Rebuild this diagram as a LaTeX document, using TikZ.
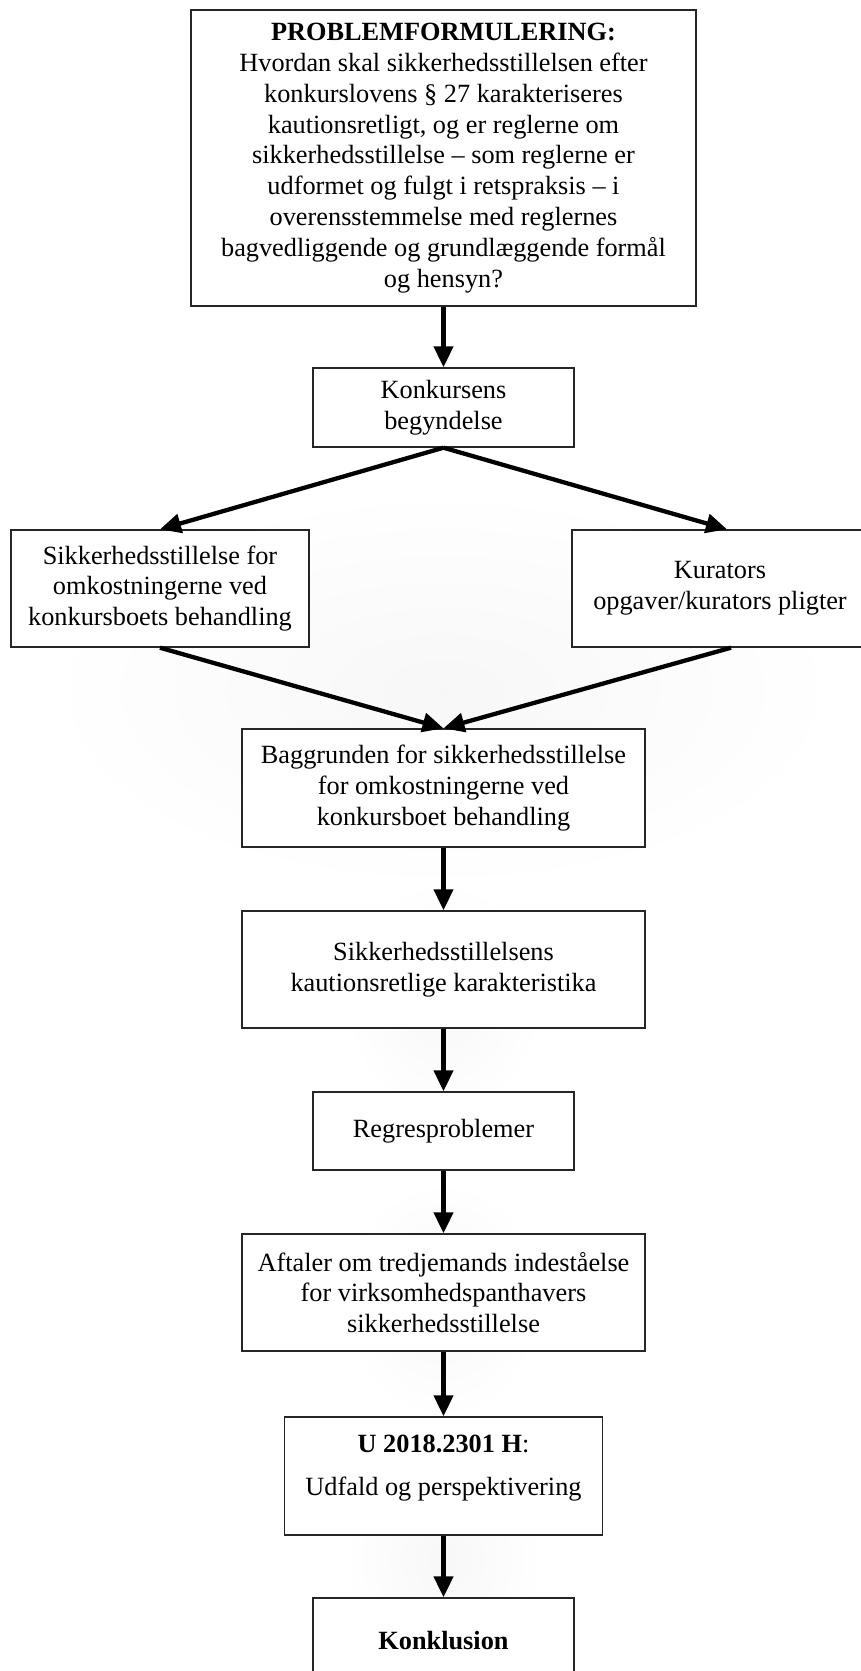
\documentclass[tikz,border=0pt]{standalone}
\usepackage{fontspec}
\setmainfont{Liberation Serif}
\usetikzlibrary{arrows.meta,shadings}
\begin{document}
\begin{tikzpicture}[x=1pt,y=-1pt,
  box/.style={draw=black!85,line width=1.4pt,fill=white,rectangle,inner sep=0pt,align=center,
     font=\fontsize{26.3}{30.8}\selectfont},
  arr/.style={line width=4.3pt,-{Triangle[length=21pt,width=19pt]}},
  glow/.style={inner color=black!3,outer color=white}]
\useasboundingbox[fill=white] (0,0) rectangle (860,1671);
% faint background glow
\shade[glow] (443,690) ellipse [x radius=400, y radius=200];
\shade[glow] (443,1000) ellipse [x radius=100, y radius=120];
\shade[glow] (443,1300) ellipse [x radius=100, y radius=120];
\shade[glow] (443,1560) ellipse [x radius=100, y radius=120];
% nodes
\node[box,minimum width=505pt,minimum height=296pt] (b1) at (443.5,158)
  {\textbf{PROBLEMFORMULERING:}\\Hvordan skal sikkerhedsstillelsen efter\\konkurslovens § 27 karakteriseres\\kautionsretligt, og er reglerne om\\sikkerhedsstillelse – som reglerne er\\udformet og fulgt i retspraksis – i\\overensstemmelse med reglernes\\bagvedliggende og grundlæggende formål\\og hensyn?};
\node[box,minimum width=261pt,minimum height=79pt] (b2) at (443.5,407.5)
  {Konkursens\\begyndelse};
\node[box,minimum width=298pt,minimum height=117pt] (bl) at (160,588.5)
  {Sikkerhedsstillelse for\\omkostningerne ved\\konkursboets behandling};
\node[box,minimum width=296pt,minimum height=117pt] (br) at (720,588.5)
  {Kurators\\opgaver/kurators pligter};
\node[box,minimum width=403pt,minimum height=118pt] (b3) at (443.5,788)
  {Baggrunden for sikkerhedsstillelse\\for omkostningerne ved\\konkursboet behandling};
\node[box,minimum width=403pt,minimum height=117pt] (b4) at (443.5,969.5)
  {Sikkerhedsstillelsens\\kautionsretlige karakteristika};
\node[box,minimum width=261pt,minimum height=78pt] (b5) at (443.5,1131)
  {Regresproblemer};
\node[box,minimum width=403pt,minimum height=117pt] (b6) at (443.5,1292.5)
  {Aftaler om tredjemands indeståelse\\for virksomhedspanthavers\\sikkerhedsstillelse};
\node[box,minimum width=318pt,minimum height=118pt] (b7) at (443.5,1476) {};
\node[font=\fontsize{26.3}{30.8}\selectfont,inner sep=0pt] (b7a) at (443.5,1444) {\textbf{U 2018.2301 H}:};
\node[font=\fontsize{26.3}{30.8}\selectfont,inner sep=0pt] (b7b) at (443.5,1489) {Udfald og perspektivering};
\node[box,minimum width=261pt,minimum height=86pt] (b8) at (443.5,1641)
  {\textbf{Konklusion}};
% connectors
\draw[arr] (b1.south) -- (b2.north);
\draw[arr] (b2.south) -- (bl.north);
\draw[arr] (b2.south) -- ([xshift=7pt]br.north);
\draw[arr] (bl.south) -- (b3.north);
\draw[arr] ([xshift=11pt]br.south) -- (b3.north);
\draw[arr] (b3.south) -- (b4.north);
\draw[arr] (b4.south) -- (b5.north);
\draw[arr] (b5.south) -- (b6.north);
\draw[arr] (b6.south) -- (b7.north);
\draw[arr] (b7.south) -- (b8.north);
\end{tikzpicture}
\end{document}
